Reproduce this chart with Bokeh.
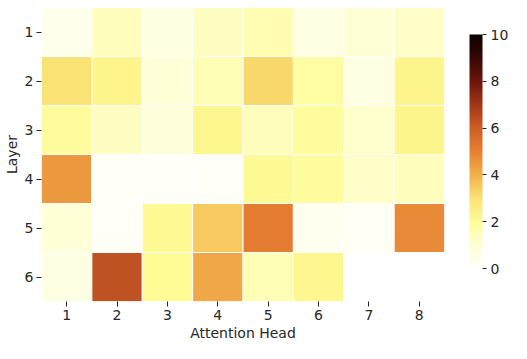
import numpy as np
from bokeh.plotting import figure
from bokeh.models import (ColumnDataSource, LinearColorMapper, ColorBar, FixedTicker,
                          Range1d)
from bokeh.embed import file_html
from bokeh.resources import INLINE

heads = [1, 2, 3, 4, 5, 6, 7, 8]
layers = [1, 2, 3, 4, 5, 6]
# values[layer-1][head-1]; None = no cell
values = [
    [0.4, 1.4, 0.7, 1.3, 1.6, 0.6, 1.0, 1.2],
    [3.0, 2.3, 0.9, 1.5, 3.2, 1.8, 0.6, 2.3],
    [1.9, 1.3, 0.8, 2.2, 1.4, 1.9, 1.1, 2.3],
    [4.5, 0.1, 0.1, 0.1, 2.1, 1.9, 1.2, 1.4],
    [0.9, 0.1, 2.1, 3.5, 5.1, 0.3, 0.2, 4.8],
    [0.6, 6.3, 2.0, 4.2, 1.5, 2.2, None, None],
]
cbar_ticks = [0, 2, 4, 6, 8, 10]

# colour ramp anchors (value -> rgb), white - yellow - orange - dark red - black
anchor_vals = [0, 1, 2, 3, 4, 5, 6, 7, 8, 9, 10]
anchor_rgb = [(255, 255, 250), (255, 255, 212), (255, 252, 150), (250, 226, 115),
              (243, 176, 76), (230, 128, 50), (205, 95, 38), (160, 55, 25),
              (108, 22, 12), (55, 8, 5), (10, 0, 0)]

def build_palette(n=256):
    a = np.array(anchor_rgb, dtype=float)
    t = np.linspace(0, 10, n)
    cols = [np.interp(t, anchor_vals, a[:, k]) for k in range(3)]
    return ["#%02x%02x%02x" % (int(round(r)), int(round(g)), int(round(b)))
            for r, g, b in zip(*cols)]

palette = build_palette()
mapper = LinearColorMapper(palette=palette, low=0, high=10)

xs, ys, vs = [], [], []
for li, row in enumerate(values):
    for hi, v in enumerate(row):
        if v is None:
            continue
        xs.append(heads[hi]); ys.append(layers[li]); vs.append(v)
src = ColumnDataSource(dict(x=xs, y=ys, v=vs))

TXT = "#262626"
FONT = "DejaVu Sans"
FS = "14px"

p = figure(width=511, height=343, output_backend="svg", toolbar_location=None,
           x_range=Range1d(0.5, 8.5), y_range=Range1d(6.5, 0.5),
           min_border_left=39, min_border_right=64, min_border_top=7, min_border_bottom=40)
p.rect(x="x", y="y", width=1, height=1, source=src,
       fill_color={"field": "v", "transform": mapper}, line_color="white", line_width=1)

p.outline_line_color = None
p.grid.grid_line_color = None
p.background_fill_color = "white"
for ax in (p.xaxis[0], p.yaxis[0]):
    ax.axis_line_color = None
    ax.major_tick_line_color = TXT
    ax.major_tick_out = 5
    ax.major_tick_in = 0
    ax.minor_tick_line_color = None
    ax.major_label_text_font = FONT
    ax.major_label_text_font_size = FS
    ax.major_label_text_color = TXT
    ax.axis_label_text_font = FONT
    ax.axis_label_text_font_size = FS
    ax.axis_label_text_font_style = "normal"
    ax.axis_label_text_color = TXT
    ax.major_label_standoff = 3
    ax.axis_label_standoff = 2
p.xaxis.ticker = FixedTicker(ticks=heads)
p.yaxis.ticker = FixedTicker(ticks=layers)
p.xaxis.axis_label = "Attention Head"
p.yaxis.axis_label = "Layer"
p.yaxis.major_label_orientation = 0

cb = ColorBar(color_mapper=mapper, ticker=FixedTicker(ticks=cbar_ticks),
              width=13, height=234, location=(25, 33), padding=0, margin=0,
              bar_line_color=None, major_tick_line_color=TXT, major_tick_out=4,
              major_tick_in=0, minor_tick_line_color=None,
              major_label_text_font=FONT, major_label_text_font_size=FS,
              major_label_text_color=TXT, label_standoff=4,
              background_fill_color=None, border_line_color=None)
p.add_layout(cb, "right")

open("out.html", "w").write(file_html(p, INLINE))
